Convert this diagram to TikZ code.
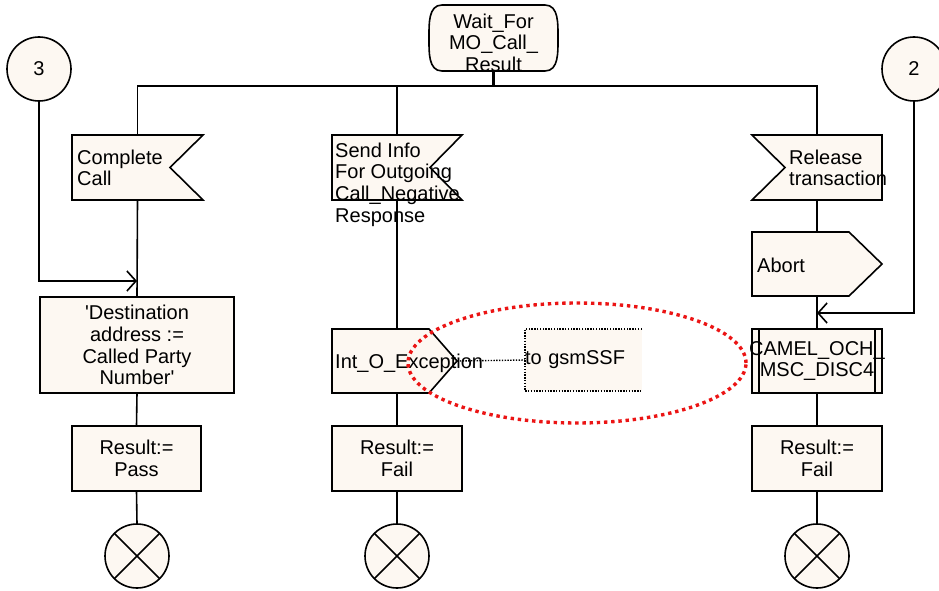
\documentclass[tikz,border=0pt]{standalone}
\usepackage{fontspec}
\setmainfont{Liberation Sans}[Ligatures=TeXOff]
\usetikzlibrary{arrows.meta,calc,shapes.geometric}
\definecolor{sdlfill}{RGB}{253,248,242}
\definecolor{markred}{RGB}{235,20,20}

\begin{document}
\begin{tikzpicture}[x=1pt,y=-1pt,
  flow/.style={line width=1.6pt},
  arr/.style={flow,-{Straight Barb[length=9pt,width=20pt]}},
  sym/.style={draw=black,fill=sdlfill,line width=1.6pt,line join=miter},
  frame/.style n args={2}{rectangle,inner sep=0pt,outer sep=0pt,
    minimum width=#1,minimum height=#2},
  txt/.style={font=\fontsize{20}{21.7}\selectfont,inner sep=0pt},
  box/.style n args={2}{sym,rectangle,inner sep=0pt,outer sep=0pt,
    minimum width=#1,minimum height=#2,txt,align=center},
  conn/.style={sym,circle,minimum size=64pt,inner sep=0pt,outer sep=0pt,txt},
  stopsym/.style={sym,circle,minimum size=64pt,inner sep=0pt,outer sep=0pt,
    path picture={\draw[line width=1.6pt]
      (path picture bounding box.north west) -- (path picture bounding box.south east)
      (path picture bounding box.north east) -- (path picture bounding box.south west);}},
  procsym/.style={path picture={\draw[line width=1.6pt]
      ([xshift=7pt]path picture bounding box.north west) --
      ([xshift=7pt]path picture bounding box.south west)
      ([xshift=-7pt]path picture bounding box.north east) --
      ([xshift=-7pt]path picture bounding box.south east);}},
  notebox/.style={fill=sdlfill,rectangle,inner xsep=7pt,inner ysep=0pt,outer sep=0pt,
    text width=117pt,minimum height=62pt,txt,align=left},
  notedot/.style={line width=1.4pt,dash pattern=on 1.4pt off 1.4pt},
  markring/.style={ellipse,draw=markred,line width=3.4pt,
    dash pattern=on 3.4pt off 3.8pt,minimum width=338pt,minimum height=120pt,
    inner sep=0pt}]
\useasboundingbox (0,0) rectangle (939,591);
\clip (0,0) rectangle (939,591);

% ---------- frames of the hand-drawn symbols ----------
\node[frame={129}{66}] (wait) at (493.5,38) {};
\node[frame={131}{65}] (cc) at (137.5,167.5) {};
\node[frame={130}{65}] (si) at (397,167.5) {};
\node[frame={130}{65}] (rt) at (817,167.5) {};
\node[frame={130}{64}] (ab) at (817,264) {};
\node[frame={125}{64}] (ie) at (394.5,361) {};

% state symbol
\path[sym] ($(wait.north west)+(13,0)$) -- ($(wait.north east)+(-13,0)$)
  to[out=0,in=90] (wait.east) to[out=-90,in=0] ($(wait.south east)+(-13,0)$)
  -- ($(wait.south west)+(13,0)$) to[out=180,in=-90] (wait.west)
  to[out=90,in=180] cycle;

% input symbols
\path[sym] (cc.north west) -- (cc.north east) -- ($(cc.east)+(-33,0)$)
  -- (cc.south east) -- (cc.south west) -- cycle;
\path[sym] (si.north west) -- (si.north east) -- ($(si.east)+(-32,0)$)
  -- (si.south east) -- (si.south west) -- cycle;
\path[sym] (rt.north west) -- (rt.north east) -- (rt.south east)
  -- (rt.south west) -- ($(rt.west)+(33,0)$) -- cycle;

% output symbols
\path[sym] (ab.north west) -- ($(ab.north east)+(-33,0)$) -- (ab.east)
  -- ($(ab.south east)+(-33,0)$) -- (ab.south west) -- cycle;
\path[sym] (ie.north west) -- ($(ie.north east)+(-28,0)$) -- (ie.east)
  -- ($(ie.south east)+(-28,0)$) -- (ie.south west) -- cycle;

% ---------- texts of the symbols ----------
\node[txt,align=center,anchor=north] (waitlbl) at (493.5,13.5) {Wait\_For\\MO\_Call\_\\Result};
\node[txt,align=left,anchor=north west] (cclbl) at (77,149.5) {Complete\\Call};
\node[txt,align=left,anchor=north west] (silbl) at (335,142.5)
  {Send Info\\For Outgoing\\Call\_Negative\\Response};
\node[txt,align=left,anchor=north west] (rtlbl) at (789,149.5) {Release\\transaction};
\node[txt,anchor=base west] (ablbl) at (757,272) {Abort};
\node[txt,anchor=base west] (ielbl) at (335,368) {Int\_O\_Exception};

% ---------- connectors and boxes ----------
\node[conn] (c3) at (39,69) {3};
\node[conn] (c2) at (914,69) {2};

\node[box={194}{96}] (dest) at (137,345)
  {'Destination\\address :=\\Called Party\\Number'};
\node[box={129}{65}] (rpass) at (136.5,458.5) {Result:=\\Pass};
\node[box={130}{65}] (rfail) at (397,458.5) {Result:=\\Fail};
\node[box={130}{64},procsym] (camel) at (817,361)
  {\makebox[110pt]{CAMEL\_OCH\_}\\\makebox[110pt]{MSC\_DISC4}};
\node[box={130}{65}] (rfail2) at (817,458.5) {Result:=\\Fail};

\node[stopsym] (t1) at (137,556) {};
\node[stopsym] (t2) at (397,556) {};
\node[stopsym] (t3) at (817,556) {};

\node[notebox,anchor=west] (note) at (525,360) {to gsmSSF};
\draw[notedot] (note.north east) -- (note.north west) -- (note.south west)
  -- (note.south east);

% ---------- flow lines ----------
\coordinate (fork) at (493.5,86);
\draw[line width=3pt] (wait.south) -- (fork);
\draw[flow] (cc.north) |- (fork) -| (rt.north);
\draw[flow] (si.north) -- (si.north |- fork);

\draw[flow] (cc.south) -- (dest.north);
\draw[arr] (c3.south) |- ($(dest.north)+(0,-16)$);
\draw[flow] (dest.south) -- (rpass.north);
\draw[flow] (rpass.south) -- (t1.north);

\draw[flow] (si.south) -- (si.south |- ie.north);
\draw[flow] (rfail.north |- ie.south) -- (rfail.north);
\draw[flow] (rfail.south) -- (t2.north);
\draw[notedot] (ie.east) -- (note.west);

\draw[flow] (rt.south) -- (ab.north);
\draw[flow] (ab.south) -- (camel.north);
\draw[arr] (c2.south) |- ($(camel.north)+(0,-16)$);
\draw[flow] (camel.south) -- (rfail2.north);
\draw[flow] (rfail2.south) -- (t3.north);

% highlight ring
\node[markring] (ring) at (577,363) {};
\end{tikzpicture}
\end{document}
